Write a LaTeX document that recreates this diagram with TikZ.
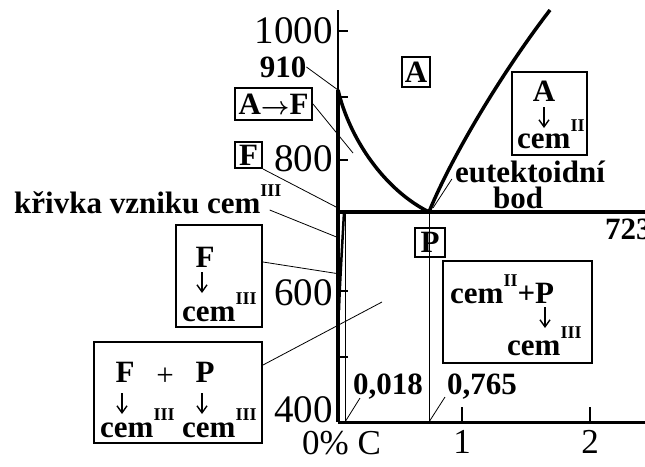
\documentclass[tikz,border=0pt]{standalone}
\usepackage{fontspec}
\setmainfont{Liberation Serif}
\usetikzlibrary{arrows.meta}
\newcommand\bt{\fontsize{31}{36}\selectfont\bfseries}
\newcommand\rt{\fontsize{39}{44}\selectfont}
\newcommand\xt{\fontsize{35}{40}\selectfont}
\newcommand\rnum[1]{\raisebox{17pt}{\fontsize{18}{18}\selectfont\bfseries #1}}
\begin{document}
\begin{tikzpicture}[x=1pt,y=-1pt,
  lbl/.style={font=\bt, inner sep=0pt},
  num/.style={font=\rt, inner sep=0pt},
  xnum/.style={font=\xt, inner sep=0pt},
  darr/.style={-{Straight Barb[length=7pt,width=10pt]}, line width=1.4pt},
  box/.style={draw, line width=2pt, inner sep=0pt},
  fe/.style={line width=3.5pt},
  axthin/.style={line width=1.5pt},
  tickl/.style={line width=1.5pt},
  thinl/.style={line width=1pt},
  lead/.style={line width=0.8pt}]
\useasboundingbox (0,0) rectangle (645,466);
% axes
\coordinate (ytop) at (338,10);
\coordinate (fe910) at (338,90);
\coordinate (origin) at (338,422);
\coordinate (xend) at (645,422);
\coordinate (eut) at (429,212);
\coordinate (l723) at (338,212);
\coordinate (r723) at (645,212);
\coordinate (acmtop) at (550,10);
\coordinate (x018) at (345,422);
\coordinate (x765) at (429,422);
\draw[axthin] (ytop) -- (fe910);
\draw[fe] (fe910) -- (origin);
\draw[line width=3pt] (origin) -- (xend);
\foreach \yy in {31,97,160,291,357} \draw[tickl] (338,\yy) -- (348,\yy);
\foreach \xx in {462,590} \draw[tickl] (\xx,422) -- (\xx,407);
% phase lines
\draw[fe] (l723) -- (r723);
\draw[fe] (fe910) .. controls (350,140) and (385,190) .. (eut);
\draw[fe] (eut) .. controls (450,160) and (500,75) .. (acmtop);
\draw[line width=2.5pt] (344,212) .. controls (342,250) and (340,280) .. (339,310);
\draw[thinl] (345,212) -- (x018);
\draw[thinl] (eut) -- (x765);
% axis labels
\node[num, anchor=east] (t1000) at (333,31) {1000};
\node[num, anchor=east] (t800) at (333,159) {800};
\node[num, anchor=east] (t600) at (333,293) {600};
\node[num, anchor=east] (t400) at (333,410) {400};
\node[xnum, anchor=base west] (xlab) at (302,454) {0\% C};
\node[xnum] (x1) at (462,442) {1};
\node[xnum] (x2) at (590,442) {2};
% 910
\node[lbl] (n910) at (283,67) {910};
\draw[lead] (n910.east) -- (fe910);
% A->F
\node[box, minimum width=77pt, minimum height=32pt, font=\bt] (AF) at (273.5,104) {A{\boldmath$\rightarrow$}F};
\coordinate (AFend) at (353,153);
\draw[lead] (AF.east) -- (AFend);
% F
\node[box, minimum width=27pt, minimum height=26pt, font=\bt] (Fbox) at (248.5,155) {F};
\coordinate (Fend) at (338,208);
\draw[lead] (Fbox.south east) -- (Fend);
% krivka
\node[lbl, anchor=base west] (krivka) at (14,213) {křivka vzniku cem\rnum{III}};
\coordinate (krend) at (339,238);
\draw[lead] ([shift={(-12,-3)}]krivka.base east) -- (krend);
% F -> cem III box
\node[box, minimum width=86pt, minimum height=102pt] (FcemBox) at (219,276) {};
\node[lbl] (FcemF) at (205,257) {F};
\coordinate (FcemA1) at (202,272);
\coordinate (FcemA2) at (202,293);
\draw[darr] (FcemA1) -- (FcemA2);
\node[lbl, anchor=base west] (FcemC) at (182,321) {cem\rnum{III}};
\coordinate (Fcemend) at (340,274);
\draw[lead] ([shift={(0,-14)}]FcemBox.east) -- (Fcemend);
% F + P box
\node[box, minimum width=168pt, minimum height=101pt] (FPbox) at (178,392.5) {};
\node[lbl] (FPF) at (125,372.5) {F};
\node[inner sep=0pt, font=\fontsize{31}{36}\selectfont] (FPplus) at (165,377) {+};
\node[lbl] (FPP) at (205,372.5) {P};
\coordinate (FPa1) at (122,393);
\coordinate (FPa2) at (122,414);
\coordinate (FPb1) at (202,393);
\coordinate (FPb2) at (202,414);
\draw[darr] (FPa1) -- (FPa2);
\draw[darr] (FPb1) -- (FPb2);
\node[lbl, anchor=base west] (FPc1) at (100,437) {cem\rnum{III}};
\node[lbl, anchor=base west] (FPc2) at (182,437) {cem\rnum{III}};
\coordinate (FPend) at (382,302);
\draw[lead] ([shift={(0,-27.5)}]FPbox.east) -- (FPend);
% A box
\node[box, minimum width=28pt, minimum height=30pt, font=\bt] (Abox) at (416,72) {A};
% A -> cem II box
\node[box, minimum width=75pt, minimum height=83pt] (AcBox) at (549.5,113.5) {};
\node[lbl] (AcA) at (544,91) {A};
\coordinate (AcA1) at (544,107);
\coordinate (AcA2) at (544,128);
\draw[darr] (AcA1) -- (AcA2);
\node[lbl, anchor=base west] (AcC) at (517,148) {cem\rnum{II}};
% eutektoidni bod
\node[lbl, anchor=base] (eutl) at (530,182) {eutektoidní};
\node[lbl, anchor=base] (bodl) at (518,208) {bod};
\draw[lead] ([shift={(4,-4)}]eut) -- ([shift={(-3,-3)}]eutl.base west);
% P box
\node[box, minimum width=30pt, minimum height=29pt, font=\bt] (Pbox) at (430,242.5) {P};
% cem II + P box
\node[box, minimum width=149pt, minimum height=102pt] (CPbox) at (517.5,312) {};
\node[lbl, anchor=base west] (CPl1) at (450,303) {cem\rnum{II}+P};
\coordinate (CPa1) at (545,307);
\coordinate (CPa2) at (545,328);
\draw[darr] (CPa1) -- (CPa2);
\node[lbl, anchor=base west] (CPl2) at (507,355) {cem\rnum{III}};
% 723
\node[lbl, anchor=west] (t723) at (605,229) {723};
% compositions
\node[lbl, anchor=base west] (c018) at (353,394) {0,018};
\draw[lead] ([shift={(7,4)}]c018.base west) -- (x018);
\node[lbl, anchor=base west] (c765) at (447,394) {0,765};
\draw[lead] ([shift={(-2,3)}]c765.base west) -- (x765);
\end{tikzpicture}
\end{document}
